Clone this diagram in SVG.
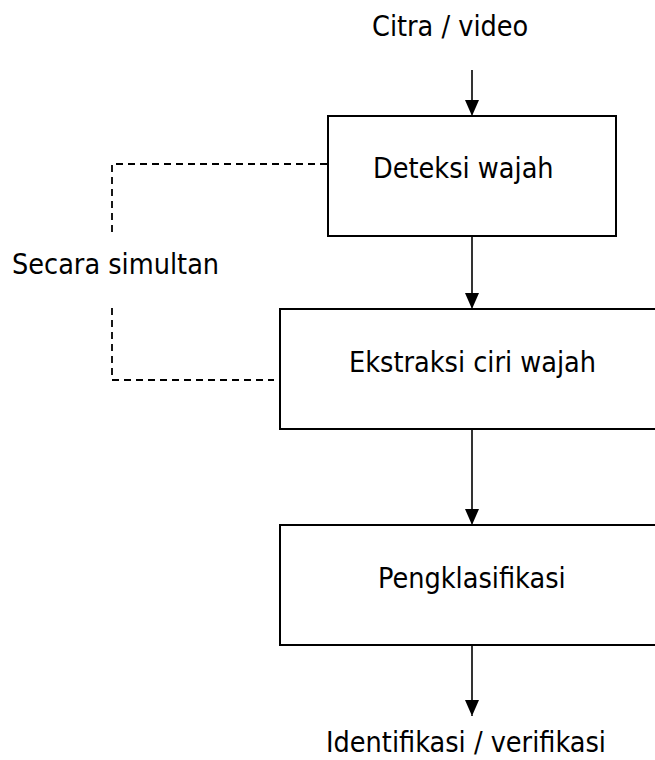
<svg xmlns="http://www.w3.org/2000/svg" width="655" height="760" viewBox="0 0 655 760">
<style>
.box{fill:#fff;stroke:#000;stroke-width:2}
.lbl{font-family:"DejaVu Sans Condensed","DejaVu Sans","Liberation Sans",sans-serif;font-stretch:condensed;font-size:28.5px;fill:#000}
.arr{stroke:#000;stroke-width:1.6;fill:none;marker-end:url(#ah)}
.dash{stroke:#000;stroke-width:1.8;fill:none;stroke-dasharray:7 5}
</style>
<defs>
<marker id="ah" markerUnits="userSpaceOnUse" markerWidth="14" markerHeight="16" refX="16" refY="7" orient="auto">
<path d="M0,0 L16,7 L0,14 Z" fill="#000"/>
</marker>
</defs>
<rect width="655" height="760" fill="#fff"/>
<g id="connectors">
<line class="arr" x1="472" y1="70" x2="472" y2="116"/>
<line class="arr" x1="472" y1="237" x2="472" y2="309"/>
<line class="arr" x1="472" y1="429" x2="472" y2="525"/>
<line class="arr" x1="472" y1="645" x2="472" y2="716"/>
<polyline class="dash" points="327,164 112,164 112,236"/>
<polyline class="dash" points="112,308 112,380 274,380"/>
</g>
<g id="input"><text class="lbl" x="372" y="36">Citra / video</text></g>
<g id="deteksi"><rect class="box" x="328" y="116" width="288" height="120"/><text class="lbl" x="373" y="178">Deteksi wajah</text></g>
<g id="simultan"><text class="lbl" x="12" y="274">Secara simultan</text></g>
<g id="ekstraksi"><rect class="box" x="280" y="309" width="384" height="120"/><text class="lbl" x="349" y="372">Ekstraksi ciri wajah</text></g>
<g id="klasifikasi"><rect class="box" x="280" y="525" width="384" height="120"/><text class="lbl" x="378" y="588">Pengklasifikasi</text></g>
<g id="output"><text class="lbl" x="326" y="752">Identifikasi / verifikasi</text></g>
</svg>
